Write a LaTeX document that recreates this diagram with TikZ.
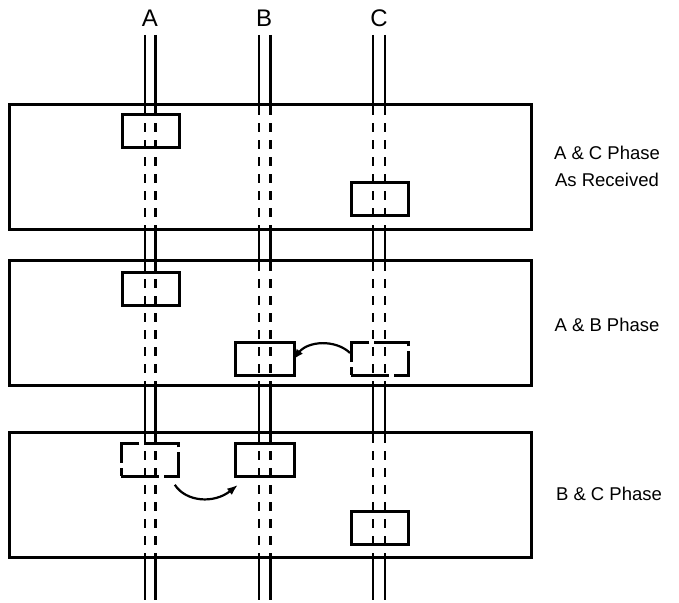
\documentclass[tikz,border=0pt]{standalone}
\usepackage{fontspec}
\setmainfont{Liberation Sans}
\usetikzlibrary{arrows.meta}
\begin{document}
\begin{tikzpicture}[x=1pt,y=-1pt,
  panel/.style={draw,line width=2.8pt,minimum width=522pt,minimum height=125pt,inner sep=0pt,anchor=north west},
  sbox/.style={draw,line width=2.8pt,minimum width=57pt,minimum height=33pt,inner sep=0pt,anchor=north west},
  dbox/.style={sbox,dash pattern=on 38pt off 5pt},
  wire/.style={line width=2.4pt},
  dwire/.style={line width=2.4pt,dash pattern=on 9pt off 8pt},
  lab/.style={font=\fontsize{24}{28}\selectfont,inner sep=0pt},
  side/.style={font=\fontsize{18.5}{27}\selectfont,align=center,inner sep=0pt},
  mv/.style={line width=2.2pt,-{Latex[length=11pt,width=8pt]}}]
\useasboundingbox (0,0) rectangle (679,602);
% panels
\node[panel] (p1) at (8,103) {};
\node[panel] (p2) at (8,259) {};
\node[panel] (p3) at (8,431) {};
% wires
\foreach \x in {145,155.5,259,270.5,373,385}{
  \draw[wire] (\x,35) -- (\x,103);
  \draw[wire] (\x,228) -- (\x,259);
  \draw[wire] (\x,384) -- (\x,431);
  \draw[wire] (\x,556) -- (\x,600);
  \draw[dwire] (\x,106) -- (\x,228);
  \draw[dwire] (\x,262) -- (\x,384);
  \draw[dwire] (\x,434) -- (\x,556);
}
% phase labels
\node[lab] (la) at (150,18) {A};
\node[lab] (lb) at (264,18) {B};
\node[lab] (lc) at (379,18) {C};
% boxes
\node[sbox] (a1) at (121,113) {};
\node[sbox] (c1) at (350,181) {};
\node[sbox] (a2) at (121,271) {};
\node[sbox,minimum width=59pt] (b2) at (234,341) {};
\node[dbox] (c2) at (350,341) {};
\node[dbox] (a3) at (120,442) {};
\node[sbox,minimum width=59pt] (b3) at (234,442) {};
\node[sbox] (c3) at (350,510) {};
% moves
\draw[mv] ([yshift=6pt]c2.west) .. controls (335,339) and (308,341) .. ([xshift=-3pt,yshift=-1pt]b2.east);
\draw[mv] ([xshift=-5pt,yshift=-7pt]a3.south east) .. controls (186,502) and (214,504) .. ([xshift=4pt,yshift=-7pt]b3.south west);
% side labels
\node[side] (t1) at (607,166) {A \& C Phase\\As Received};
\node[side] (t2) at (607,325) {A \& B Phase};
\node[side] (t3) at (609,494) {B \& C Phase};
\end{tikzpicture}
\end{document}
